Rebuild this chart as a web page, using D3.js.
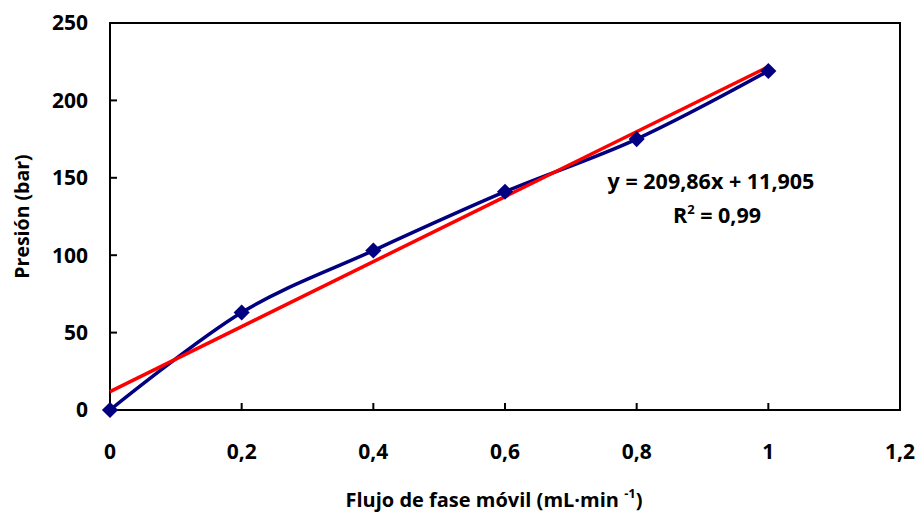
<!DOCTYPE html>
<html>
<head>
<meta charset="utf-8">
<script src="https://cdn.jsdelivr.net/npm/d3@7"></script>
<style>
  body { margin: 0; background: #fff; }
  text { font-family: "Open Sans", Lato, sans-serif; font-weight: bold; fill: #000; }
</style>
</head>
<body>
<svg id="chart" width="917" height="514"></svg>
<script>
// flow (mL/min) vs pressure (bar)
var flujo = [0, 0.2, 0.4, 0.6, 0.8, 1];
var presion = [0, 63, 103, 141, 175, 219];
var trendCoef = [209.86, 11.905];   // slope, intercept
var trendRange = [0, 1];
var xTicks = [0, 0.2, 0.4, 0.6, 0.8, 1, 1.2];
var yTicks = [0, 50, 100, 150, 200, 250];

var svg = d3.select("#chart");
var plotL = 110, plotR = 900, plotT = 23, plotB = 410;

var x = d3.scaleLinear().domain([0, 1.2]).range([plotL, plotR]);
var y = d3.scaleLinear().domain([0, 250]).range([plotB, plotT]);
var fmt = function(d) { return String(d).replace(".", ","); };

// frame
svg.append("rect")
  .attr("x", plotL).attr("y", plotT)
  .attr("width", plotR - plotL).attr("height", plotB - plotT)
  .attr("fill", "none").attr("stroke", "#000").attr("stroke-width", 2);

// ticks (inward)
svg.selectAll(".ytick").data(yTicks).enter()
  .append("line")
  .attr("x1", plotL).attr("x2", plotL + 7)
  .attr("y1", function(d) { return y(d); }).attr("y2", function(d) { return y(d); })
  .attr("stroke", "#000").attr("stroke-width", 2);

svg.selectAll(".xtick").data(xTicks).enter()
  .append("line")
  .attr("x1", function(d) { return x(d); }).attr("x2", function(d) { return x(d); })
  .attr("y1", plotB).attr("y2", plotB - 7)
  .attr("stroke", "#000").attr("stroke-width", 2);

svg.selectAll(".ylab").data(yTicks).enter()
  .append("text")
  .attr("x", 88).attr("y", function(d) { return y(d); })
  .attr("dy", "0.35em").attr("text-anchor", "end")
  .style("font-size", "21px")
  .text(fmt);

svg.selectAll(".xlab").data(xTicks).enter()
  .append("text")
  .attr("x", function(d) { return x(d); }).attr("y", 452)
  .attr("dy", "0.35em").attr("text-anchor", "middle")
  .style("font-size", "21px")
  .text(fmt);

// axis titles
svg.append("text")
  .attr("transform", "translate(29," + ((plotT + plotB) / 2) + ") rotate(-90)")
  .attr("text-anchor", "middle")
  .style("font-size", "19.5px")
  .text("Presión (bar)");

var xt = svg.append("text")
  .attr("x", 494).attr("y", 507)
  .attr("text-anchor", "middle")
  .style("font-size", "20px");
xt.append("tspan").text("Flujo de fase móvil (mL·min ");
xt.append("tspan").attr("dy", -9).style("font-size", "13px").text("-1");
xt.append("tspan").attr("dy", 9).text(")");

// measured series, smoothed
var pts = flujo.map(function(d, i) { return [d, presion[i]]; });
var line = d3.line()
  .x(function(d) { return x(d[0]); })
  .y(function(d) { return y(d[1]); })
  .curve(d3.curveCatmullRom.alpha(0));

svg.append("path")
  .attr("d", line(pts))
  .attr("fill", "none").attr("stroke", "#000080").attr("stroke-width", 3.5);

// linear trendline
var trendPts = trendRange.map(function(d) { return [d, trendCoef[0] * d + trendCoef[1]]; });
svg.append("path")
  .attr("d", d3.line().x(function(d) { return x(d[0]); }).y(function(d) { return y(d[1]); })(trendPts))
  .attr("fill", "none").attr("stroke", "#ff0000").attr("stroke-width", 3.5);

// markers
svg.selectAll(".pt").data(pts).enter()
  .append("path")
  .attr("d", d3.symbol().type(d3.symbolSquare).size(130))
  .attr("transform", function(d) { return "translate(" + x(d[0]) + "," + y(d[1]) + ") rotate(45)"; })
  .attr("fill", "#000080");

// equation
svg.append("text")
  .attr("x", 711).attr("y", 189)
  .attr("text-anchor", "middle")
  .style("font-size", "21.5px")
  .text("y = 209,86x + 11,905");

var r2 = svg.append("text")
  .attr("x", 717).attr("y", 223)
  .attr("text-anchor", "middle")
  .style("font-size", "21.5px");
r2.append("tspan").text("R");
r2.append("tspan").attr("dy", -9).style("font-size", "13px").text("2");
r2.append("tspan").attr("dy", 9).text(" = 0,99");
</script>
</body>
</html>
